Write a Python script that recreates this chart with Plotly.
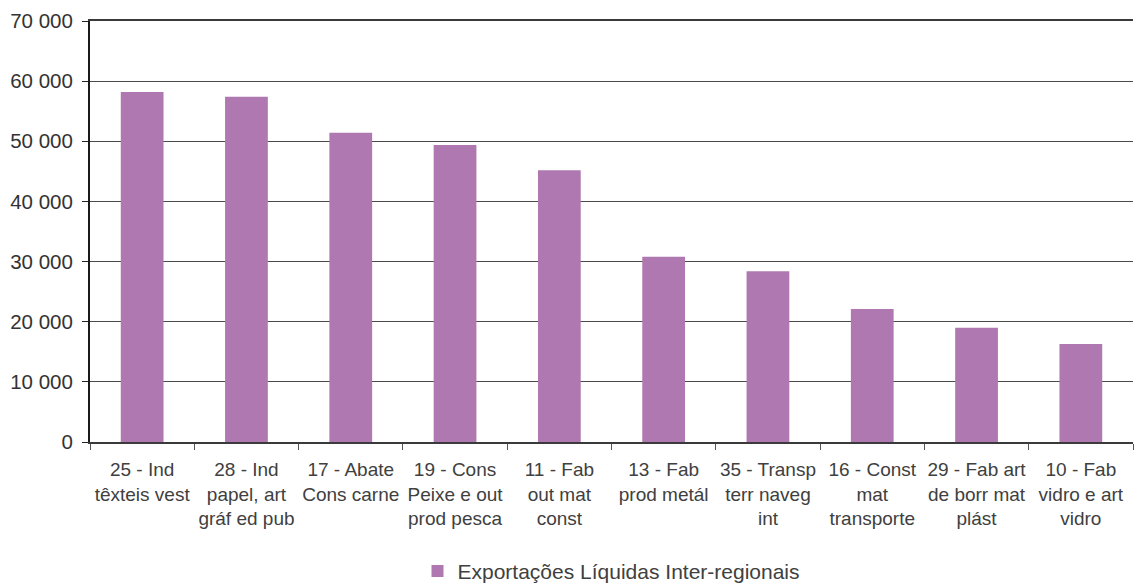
import plotly.graph_objects as go

categories = [
    "25 - Ind<br>têxteis vest",
    "28 - Ind<br>papel, art<br>gráf ed pub",
    "17 - Abate<br>Cons carne",
    "19 - Cons<br>Peixe e out<br>prod pesca",
    "11 - Fab<br>out mat<br>const",
    "13 - Fab<br>prod metál",
    "35 - Transp<br>terr naveg<br>int",
    "16 - Const<br>mat<br>transporte",
    "29 - Fab art<br>de borr mat<br>plást",
    "10 - Fab<br>vidro e art<br>vidro",
]
values = [58200, 57400, 51400, 49400, 45200, 30800, 28400, 22100, 19000, 16300]
series_name = "Exportações Líquidas Inter-regionais"
y_ticks = [0, 10000, 20000, 30000, 40000, 50000, 60000, 70000]

fig = go.Figure()
fig.add_trace(go.Bar(
    x=categories, y=values, name=series_name,
    marker=dict(color="#AF78B1", line=dict(width=0)),
))

fig.update_layout(
    width=1135, height=583,
    margin=dict(l=90, r=2, t=21, b=141, autoexpand=False),
    plot_bgcolor="white", paper_bgcolor="white",
    font=dict(family="Liberation Sans, Arial, sans-serif", color="#404040"),
    separators=", ",
    bargap=0.59,
    showlegend=True,
    legend=dict(orientation="h", x=0.5, xanchor="center", yref="container",
                y=0.02, yanchor="middle",
                font=dict(size=21, color="#404040"), itemwidth=30),
    xaxis=dict(
        type="category", tickson="boundaries", ticks="outside", ticklen=6,
        tickcolor="#555555", tickwidth=1, tickangle=0, automargin=False,
        ticklabelstandoff=9,
        showline=True, linecolor="#3a3a3a", linewidth=2, mirror=True,
        showgrid=False, tickfont=dict(size=19, color="#404040"),
    ),
    yaxis=dict(
        range=[0, 70000], tickvals=y_ticks, tickformat=",d", automargin=False,
        ticks="outside", ticklen=6, tickcolor="#222222", tickwidth=1,
        ticklabelstandoff=5,
        showline=True, linecolor="#1a1a1a", linewidth=2,
        showgrid=True, gridcolor="#4a4a4a", gridwidth=1,
        zeroline=False, tickfont=dict(size=20.5, color="#333333"),
    ),
)

fig.write_html("out.html", config={"displayModeBar": False},
               post_script="document.body.style.margin='0';")
